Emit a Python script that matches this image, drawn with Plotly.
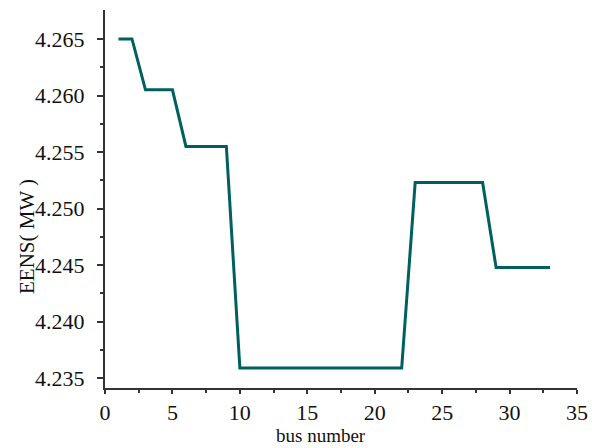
import plotly.graph_objects as go

bus = list(range(1, 34))
eens = [4.2650, 4.2650,
        4.2605, 4.2605, 4.2605,
        4.2555, 4.2555, 4.2555, 4.2555,
        4.2359, 4.2359, 4.2359, 4.2359, 4.2359, 4.2359, 4.2359, 4.2359,
        4.2359, 4.2359, 4.2359, 4.2359, 4.2359,
        4.2523, 4.2523, 4.2523, 4.2523, 4.2523, 4.2523,
        4.2448, 4.2448, 4.2448, 4.2448, 4.2448]
y_ticks = [4.235, 4.240, 4.245, 4.250, 4.255, 4.260, 4.265]
y_tick_text = ["4.235", "4.240", "4.245", "4.250", "4.255", "4.260", "4.265"]
x_ticks = [0, 5, 10, 15, 20, 25, 30, 35]

font = "Liberation Serif, Times New Roman, serif"
axcol = "#333333"

W, H = 592, 448
l, r, t, b = 105, 15, 10, 60
pw, ph = W - l - r, H - t - b

def px_x(x):
    return (x - l) / pw

def px_y(y):
    return (H - b - y) / ph

fig = go.Figure()
fig.add_trace(go.Scatter(x=bus, y=eens, mode="lines",
                         line=dict(color="#005f5f", width=3)))

fig.update_layout(
    width=W, height=H,
    margin=dict(l=l, r=r, t=t, b=b, autoexpand=False),
    paper_bgcolor="white", plot_bgcolor="white",
    showlegend=False,
    font=dict(family=font, size=22, color="#111111"),
    xaxis=dict(range=[0, 35], tickvals=x_ticks, showgrid=False, zeroline=False,
               showline=True, linecolor=axcol, linewidth=2,
               ticks="outside", ticklen=4, tickwidth=1.5, tickcolor=axcol,
               minor=dict(dtick=2.5, ticks="outside", ticklen=3, tickwidth=1.5, tickcolor=axcol),
               tickfont=dict(family=font, size=22), ticklabelstandoff=0),
    yaxis=dict(range=[4.23414, 4.26756], tickvals=y_ticks, ticktext=y_tick_text,
               showgrid=False, zeroline=False,
               showline=True, linecolor=axcol, linewidth=2,
               ticks="outside", ticklen=6, tickwidth=1.5, tickcolor=axcol,
               minor=dict(tickvals=[4.2375, 4.2425, 4.2475, 4.2525, 4.2575, 4.2625],
                          ticks="outside", ticklen=3, tickwidth=1.5, tickcolor=axcol),
               tickfont=dict(family=font, size=22), ticklabelstandoff=8),
    annotations=[
        dict(text="EENS( MW )", x=px_x(27), y=px_y(237), xref="paper", yref="paper",
             xanchor="center", yanchor="middle",
             showarrow=False, textangle=-90, font=dict(family=font, size=21)),
        dict(text="bus number", x=px_x(321), y=px_y(435), xref="paper", yref="paper",
             xanchor="center", yanchor="middle",
             showarrow=False, font=dict(family=font, size=19)),
    ],
)

fig.write_html("out.html")
